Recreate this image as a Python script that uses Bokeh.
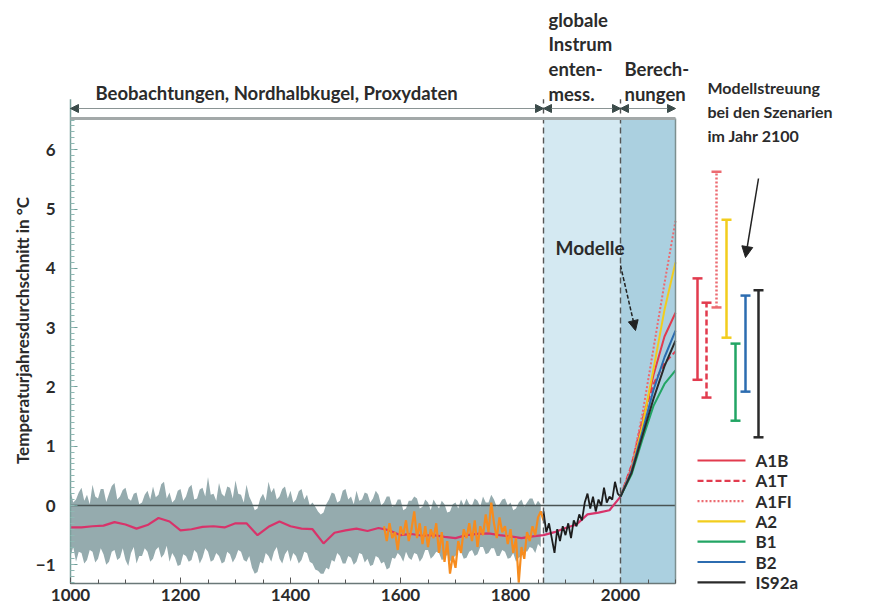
import math
from bokeh.plotting import figure
from bokeh.models import (Range1d, FixedTicker, Arrow, NormalHead, AllLabels)
from bokeh.core.properties import value
from bokeh.embed import file_html
from bokeh.resources import INLINE

FONT = "Lato"
TXT = "#2b2b2b"

# ---------------- data ----------------
band_years = list(range(1000, 1856, 5))
band_upper = [0.25, 0.05, 0.10, 0.22, 0.30, 0.08, 0.18, 0.02, 0.35, 0.15,
              0.12, 0.28, 0.28, 0.06, 0.20, 0.33, 0.38, 0.10, 0.15, 0.26,
              0.30, 0.12, 0.08, 0.20, 0.22, 0.02, 0.05, 0.18, 0.25, 0.10,
              0.32, 0.14, 0.18, 0.36, 0.40, 0.12, 0.22, 0.05, 0.10, 0.25,
              0.28, 0.08, 0.15, 0.30, 0.35, 0.10, 0.12, 0.27, 0.30, 0.15,
              0.48, 0.18, 0.20, 0.08, 0.38, 0.20, 0.15, 0.32, 0.30, 0.12,
              0.42, 0.20, 0.18, 0.05, 0.35, 0.15, 0.05, -0.08, -0.05, 0.12,
              0.20, 0.08, 0.40, 0.22, 0.30, 0.10, 0.15, 0.28, 0.32, 0.12,
              0.25, 0.05, 0.10, 0.24, 0.28, 0.10, 0.18, 0.00, 0.05, -0.02,
              -0.10, -0.15, -0.12, 0.02, 0.10, 0.22, 0.20, 0.05, 0.08, 0.25,
              0.28, 0.10, 0.15, 0.02, 0.25, 0.08, 0.10, 0.22, 0.20, 0.05,
              0.12, 0.25, 0.18, 0.00, 0.05, 0.15, 0.15, -0.02, 0.00, 0.10,
              0.10, -0.08, -0.05, 0.08, 0.08, 0.15, 0.12, -0.05, -0.02, 0.10,
              0.05, -0.08, 0.10, 0.02, -0.05, 0.08, 0.02, -0.12, -0.10, 0.02,
              0.05, -0.05, 0.10, 0.00, 0.12, 0.02, 0.00, 0.12, 0.08, -0.02,
              0.15, 0.05, 0.05, 0.18, 0.10, -0.02, 0.02, 0.10, 0.12, 0.00,
              0.05, -0.08, -0.05, 0.05, 0.10, -0.02, 0.05, 0.12, 0.12, 0.00,
              0.08, 0.02]
band_lower = [-0.85, -0.70, -0.95, -0.78, -0.80, -0.98, -0.92, -0.75, -0.78, -0.96,
              -0.90, -0.72, -0.82, -1.00, -0.95, -0.78, -0.75, -0.92, -0.88, -0.72,
              -0.92, -1.02, -0.80, -0.70, -0.98, -0.85, -0.85, -0.72, -0.78, -0.95,
              -0.90, -0.75, -0.70, -0.88, -0.82, -0.68, -0.95, -0.80, -0.88, -1.02,
              -1.00, -0.82, -0.85, -0.95, -0.92, -0.75, -0.80, -0.98, -0.88, -0.72,
              -0.78, -0.95, -0.92, -0.80, -0.85, -0.98, -0.95, -0.78, -0.82, -0.96,
              -0.88, -0.75, -0.78, -0.92, -0.95, -0.85, -1.05, -1.15, -1.12, -0.95,
              -0.98, -0.80, -0.85, -0.95, -0.78, -0.70, -0.90, -0.98, -0.82, -0.75,
              -0.95, -0.80, -0.85, -0.98, -0.92, -0.78, -0.80, -0.95, -0.98, -1.08,
              -1.10, -1.15, -1.15, -1.05, -1.08, -0.92, -0.95, -0.80, -0.85, -0.98,
              -0.98, -0.85, -0.88, -1.00, -0.95, -0.80, -0.82, -0.96, -0.90, -1.02,
              -1.00, -0.85, -0.88, -0.98, -0.95, -1.08, -1.05, -0.88, -0.90, -0.80,
              -0.85, -0.95, -0.78, -0.88, -0.92, -0.80, -0.82, -0.95, -0.88, -0.75,
              -0.75, -0.90, -0.85, -0.78, -0.80, -0.92, -0.90, -0.82, -0.95, -0.88,
              -0.85, -0.75, -0.78, -0.90, -0.88, -0.78, -0.75, -0.85, -0.82, -0.70,
              -0.70, -0.82, -0.80, -0.72, -0.72, -0.85, -0.85, -0.75, -0.78, -0.90,
              -0.88, -0.80, -0.95, -0.88, -0.85, -0.75, -0.78, -0.70, -0.72, -0.80,
              -0.65, -0.70]

smooth_years = list(range(1000, 2001, 20))
smooth_vals = [-0.37, -0.37, -0.35, -0.34, -0.28, -0.32, -0.39, -0.33, -0.21, -0.27,
               -0.42, -0.40, -0.36, -0.35, -0.37, -0.30, -0.30, -0.50, -0.36, -0.27,
               -0.35, -0.39, -0.40, -0.64, -0.46, -0.42, -0.39, -0.43, -0.38, -0.42,
               -0.50, -0.48, -0.51, -0.50, -0.53, -0.55, -0.50, -0.48, -0.47, -0.50,
               -0.52, -0.55, -0.52, -0.50, -0.45, -0.38, -0.32, -0.15, -0.12, -0.08,
               0.15]

proxy_years = list(range(1570, 1861, 5))
proxy_vals = [-0.35, -0.60, -0.30, -0.55, -0.45, -0.75, -0.35, -0.50, -0.25, -0.60,
              -0.40, -0.10, -0.55, -0.30, -0.65, -0.35, -0.70, -0.40, -0.55, -0.30,
              -0.80, -0.45, -0.95, -0.60, -1.15, -0.85, -1.05, -0.60, -0.80, -0.40,
              -0.55, -0.30, -0.60, -0.25, -0.70, -0.35, -0.50, -0.15, -0.45, 0.05,
              -0.30, -0.55, -0.20, -0.45, -0.35, -0.65, -0.40, -0.80, -0.55, -1.30,
              -0.70, -0.90, -0.45, -0.60, -0.35, -0.50, -0.20, -0.10, -0.25]

instr_years = list(range(1860, 2001, 5))
instr_vals = [-0.10, -0.45, -0.30, -0.55, -0.80, -0.40, -0.60, -0.35, -0.50, -0.30,
              -0.55, -0.25, -0.35, -0.15, -0.25, 0.05, 0.20, -0.05, 0.15, -0.10,
              0.10, 0.00, 0.30, 0.05, 0.15, 0.10, 0.40, 0.20, 0.15]

proj_years = [2000, 2020, 2040, 2060, 2080, 2100]
scen_names = ["A1B", "A1T", "A1FI", "A2", "B1", "B2", "IS92a"]
scen_vals = {
    "A1B":   [0.15, 0.62, 1.40, 2.20, 2.85, 3.25],
    "A1T":   [0.15, 0.68, 1.45, 2.05, 2.40, 2.60],
    "A1FI":  [0.15, 0.65, 1.55, 2.65, 3.75, 4.80],
    "A2":    [0.15, 0.58, 1.35, 2.30, 3.30, 4.10],
    "B1":    [0.15, 0.52, 1.12, 1.68, 2.05, 2.28],
    "B2":    [0.15, 0.58, 1.25, 1.95, 2.50, 2.95],
    "IS92a": [0.15, 0.55, 1.18, 1.80, 2.35, 2.78],
}
spread_low = [2.12, 1.82, 3.34, 2.83, 1.43, 1.92, 1.15]
spread_high = [3.83, 3.42, 5.63, 4.82, 2.73, 3.54, 3.63]

x_ticks = [1000, 1200, 1400, 1600, 1800, 2000]
y_ticks = [-1, 0, 1, 2, 3, 4, 5, 6]

# ---------------- styles / layout ----------------
scen_colors = ["#e23b4e", "#e23b4e", "#ec6a70", "#f2cd1d", "#22a564", "#2c6cb0", "#2a2a2a"]
scen_dash = ["solid", "6 3", "2 2", "solid", "solid", "solid", "solid"]
bar_px = [697, 706, 716, 726, 735, 745, 758]     # canvas x of spread bars

PXX = 0.55          # px per year
PXY = 59.3          # px per degree
ZERO_Y = 505        # canvas y of 0 degrees
Y_BOT = -(583 - ZERO_Y) / PXY
Y_TOP = (ZERO_Y - 118) / PXY
X_END = 2100


def ty(y_px):
    return (ZERO_Y - y_px) / PXY


def tx(x_px):
    return 1000 + (x_px - 70) / PXX


p = figure(width=870, height=611, output_backend="svg", toolbar_location=None,
           x_range=Range1d(tx(0), tx(870)),
           y_range=Range1d(ty(611), ty(0)),
           min_border=0, min_border_left=0, min_border_right=0, min_border_top=0,
           min_border_bottom=0)
p.outline_line_color = None
p.grid.visible = False
p.background_fill_color = "white"
p.border_fill_color = "white"

# shaded periods
p.quad(left=[1860], right=[2000], bottom=[Y_BOT], top=[Y_TOP],
       fill_color="#d4e9f2", line_color=None)
p.quad(left=[2000], right=[X_END], bottom=[Y_BOT], top=[Y_TOP],
       fill_color="#abd0e0", line_color=None)

# band + curves
p.varea(x=band_years, y1=band_lower, y2=band_upper, fill_color="#95abae")
p.line([1000, X_END], [0, 0], line_color="#4a5454", line_width=1.3)
p.line(smooth_years, smooth_vals, line_color="#d8336a", line_width=2.2)
p.line(proxy_years, proxy_vals, line_color="#f68c1f", line_width=2.2)
p.line(instr_years, instr_vals, line_color="#1d1d1d", line_width=1.8)

for name, c, d in zip(scen_names, scen_colors, scen_dash):
    p.line(proj_years, scen_vals[name], line_color=c, line_dash=d, line_width=2)

# dashed period separators
for xv in (1860, 2000):
    p.line([xv, xv], [Y_BOT, 6.85], line_color="#555", line_dash="6 4", line_width=1.4)

# frame
p.line([1000, 1000], [Y_BOT, 6.85], line_color="#7aa09c", line_width=1.5)
p.line([1000, X_END], [Y_BOT, Y_BOT], line_color="#6a7878", line_width=1.5)
p.line([X_END, X_END], [Y_BOT, Y_TOP], line_color="#7d8f8f", line_width=1.5)
p.line([1000, X_END], [Y_TOP, Y_TOP], line_color="#a3a9a9", line_width=3)

# top bracket arrows
ARROW_Y = ty(108)
for a, b in ((1000, 1860), (1860, 2000), (2000, X_END)):
    p.add_layout(Arrow(x_start=a, y_start=ARROW_Y, x_end=b, y_end=ARROW_Y,
                       line_color="#8a9494", line_width=1.2,
                       start=NormalHead(size=8, fill_color="#3b4b4a", line_color="#3b4b4a"),
                       end=NormalHead(size=8, fill_color="#3b4b4a", line_color="#3b4b4a")))


def put_text(items, size, angle=0.0, align="left"):
    p.text(x=[tx(t[1]) for t in items], y=[ty(t[2]) for t in items],
           text=[t[0] for t in items], angle=angle,
           text_font=value(FONT), text_font_size=value(size), text_font_style="bold",
           text_color=TXT, text_align=align, text_baseline="middle")


put_text([("Beobachtungen, Nordhalbkugel, Proxydaten", 95, 92),
          ("globale", 548, 19), ("Instrum", 548, 43), ("enten-", 548, 68),
          ("mess.", 548, 93), ("Berech-", 624, 68), ("nungen", 624, 93)], "18.5px")
put_text([("Modelle", 555, 247)], "19px")
put_text([("Modellstreuung", 707, 87), ("bei den Szenarien", 707, 111),
          ("im Jahr 2100", 707, 135)], "16px")
# y-axis title
put_text([("Temperaturjahresdurchschnitt in °C", 22, 330)], "17px",
         angle=math.pi / 2, align="center")

# arrows to models / spread
p.add_layout(Arrow(x_start=tx(620), y_start=ty(265), x_end=tx(635), y_end=ty(330),
                   line_color="#222", line_width=1.5, line_dash="4 2",
                   end=NormalHead(size=10, fill_color="#222", line_color="#222")))
p.add_layout(Arrow(x_start=tx(758), y_start=ty(178), x_end=tx(745), y_end=ty(257),
                   line_color="#222", line_width=1.5,
                   end=NormalHead(size=11, fill_color="#222", line_color="#222")))

# scenario spread bars
for xpx, lo, hi, c, d in zip(bar_px, spread_low, spread_high, scen_colors, scen_dash):
    xv = tx(xpx)
    hw = 5 / PXX
    p.segment(x0=[xv], y0=[lo], x1=[xv], y1=[hi], line_color=c, line_dash=d, line_width=2.5)
    p.segment(x0=[xv - hw, xv - hw], y0=[lo, hi], x1=[xv + hw, xv + hw], y1=[lo, hi],
              line_color=c, line_width=2.5)

# legend (hand-placed, right of the plot)
for i, (name, c, d) in enumerate(zip(scen_names, scen_colors, scen_dash)):
    yy = ty(460 + i * 20.3)
    p.line([tx(697), tx(745)], [yy, yy], line_color=c, line_dash=d, line_width=2.2)
put_text([(n, 755, 460 + i * 20.3) for i, n in enumerate(scen_names)], "17px")

# axes (drawn at fixed positions inside the canvas-wide frame)
xa = p.xaxis[0]
xa.fixed_location = Y_BOT
xa.ticker = FixedTicker(ticks=x_ticks, minor_ticks=list(range(1000, X_END + 1, 50)))
xa.major_label_policy = AllLabels()
xa.axis_line_color = None
xa.major_tick_in = 6
xa.major_tick_out = 0
xa.minor_tick_in = 4
xa.minor_tick_out = 0
xa.major_tick_line_color = "#555"
xa.minor_tick_line_color = "#555"
xa.major_label_standoff = 5
xa.major_label_text_font = FONT
xa.major_label_text_font_size = "17px"
xa.major_label_text_font_style = "bold"
xa.major_label_text_color = TXT

ya = p.yaxis[0]
ya.fixed_location = 1000
ya.ticker = FixedTicker(ticks=y_ticks, minor_ticks=[round(-1.3 + 0.1 * i, 1) for i in range(79)])
ya.major_label_policy = AllLabels()
ya.axis_line_color = None
ya.major_tick_in = 7
ya.major_tick_out = 0
ya.minor_tick_in = 4
ya.minor_tick_out = 0
ya.major_tick_line_color = "#6f9e99"
ya.minor_tick_line_color = "#8fb8b3"
ya.major_label_standoff = 15
ya.major_label_text_font = FONT
ya.major_label_text_font_size = "17px"
ya.major_label_text_font_style = "bold"
ya.major_label_text_color = TXT

open("out.html", "w").write(file_html(p, INLINE))
